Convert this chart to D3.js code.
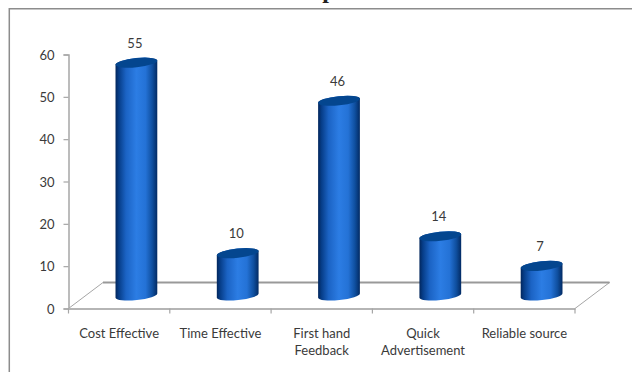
<!DOCTYPE html>
<html>
<head>
<meta charset="utf-8">
<script src="https://cdnjs.cloudflare.com/ajax/libs/d3/7.8.5/d3.min.js"></script>
<style>
  html, body { margin: 0; padding: 0; background: #fff; overflow: hidden; }
  svg { display: block; }
  text { font-family: Lato, "Open Sans", sans-serif; fill: #3a3a3a; }
</style>
</head>
<body>
<svg id="chart" width="632" height="372"></svg>
<script>
const categories = ["Cost Effective", "Time Effective", "First hand Feedback", "Quick Advertisement", "Reliable source"];
const values = [55, 10, 46, 14, 7];
const yTicks = [0, 10, 20, 30, 40, 50, 60];

const svg = d3.select("#chart");
const fontSize = 13;

// Plot extents and the oblique offset of the 3D floor
const plot = { left: 68.5, right: 575, top: 54.5, bottom: 308.5 };
const depth = { x: 34.5, y: -26 };
const barRadiusX = 21, barRadiusY = 4.6, barTilt = -6;

const x = d3.scaleBand().domain(categories).range([plot.left, plot.right]);
const y = d3.scaleLinear().domain([0, 60]).range([plot.bottom, plot.top]);

// Outer frame, open on its right and bottom sides
svg.append("path")
  .attr("d", d3.line()([[632, 8.8], [9.3, 8.8], [9.3, 372]]))
  .attr("fill", "none").attr("stroke", "#8c8c8c").attr("stroke-width", 1.5);

// Heading sits above the frame and is cut off by the page edge
svg.append("text")
  .attr("x", 329).attr("y", -2.5).attr("text-anchor", "middle")
  .style("font-family", "'Liberation Serif', serif")
  .style("font-weight", "bold").style("font-size", "24px").style("fill", "#222")
  .text("p");

const defs = svg.append("defs");
const grad = defs.append("linearGradient").attr("id", "cylinder")
  .attr("x1", 0).attr("x2", 1).attr("y1", 0).attr("y2", 0);
[[0, "#02265c"], [0.08, "#063d88"], [0.25, "#1b63c4"], [0.5, "#2c7de4"], [0.72, "#2472d6"], [0.88, "#0f4f9f"], [1, "#022a63"]]
  .forEach(([o, c]) => grad.append("stop").attr("offset", o).attr("stop-color", c));

// Floor of the 3D plot
const floor = [
  [plot.left, plot.bottom],
  [plot.left + depth.x, plot.bottom + depth.y],
  [plot.right + depth.x, plot.bottom + depth.y],
  [plot.right, plot.bottom]
];
svg.append("path").attr("d", d3.line()(floor))
  .attr("fill", "none").attr("stroke", "#a6a6a6").attr("stroke-width", 1);
svg.append("path").attr("d", d3.line()(floor.slice(1, 3)))
  .attr("fill", "none").attr("stroke", "#999").attr("stroke-width", 2);

// Axes
const yAxis = svg.append("g").attr("transform", `translate(${plot.left},0)`)
  .call(d3.axisLeft(y).tickValues(yTicks).tickSize(5).tickPadding(9));
const xAxis = svg.append("g").attr("transform", `translate(0,${plot.bottom})`)
  .call(d3.axisBottom(x).tickSize(0).tickPadding(20));

[yAxis, xAxis].forEach(a => {
  a.select(".domain").attr("stroke", "#a6a6a6").attr("stroke-width", 1.5);
  a.selectAll(".tick line").attr("stroke", "#a6a6a6").attr("stroke-width", 1.2);
  a.selectAll("text").style("font-size", fontSize + "px").style("font-family", null).attr("fill", null);
});
xAxis.select(".domain").attr("stroke", "#b5b5b5").attr("stroke-width", 2);
yAxis.selectAll("text").attr("dy", "0.36em");

// Category separators on the horizontal axis
xAxis.selectAll(".sep")
  .data(categories.concat([null]))
  .join("line").attr("class", "sep")
  .attr("x1", (d, i) => i < categories.length ? x(d) : plot.right)
  .attr("x2", (d, i) => i < categories.length ? x(d) : plot.right)
  .attr("y1", 0).attr("y2", 5)
  .attr("stroke", "#a6a6a6").attr("stroke-width", 1.2);

// Wrap long category names into rows no wider than a band
xAxis.selectAll(".tick text").each(function(d) {
  const t = d3.select(this);
  const baseY = +t.attr("y");
  const maxWidth = x.bandwidth() - 6;
  const lines = [];
  let line = "";
  d.split(" ").forEach(word => {
    const candidate = line ? line + " " + word : word;
    t.text(candidate);
    if (line && this.getComputedTextLength() > maxWidth) {
      lines.push(line);
      line = word;
    } else {
      line = candidate;
    }
  });
  lines.push(line);
  t.text(null);
  lines.forEach((l, i) => {
    t.append("tspan").attr("x", 0).attr("y", baseY + i * 17.3).attr("dy", "0.71em").text(l);
  });
});

// Cylinders: each sits halfway along the floor depth
const centre = d => x(d.category) + x.bandwidth() / 2 + depth.x / 2;
const level = v => y(v) + depth.y / 2;
const rows = categories.map((category, i) => ({ category, value: values[i] }));
const tiltRad = barTilt * Math.PI / 180;
const dx = barRadiusX * Math.cos(tiltRad), dy = barRadiusX * Math.sin(tiltRad);

const bars = svg.selectAll(".bar").data(rows).join("g").attr("class", "bar");

bars.append("path")
  .attr("fill", "url(#cylinder)")
  .attr("d", d => {
    const cx = centre(d), top = level(d.value), base = level(0);
    return `M${cx - dx},${top - dy}`
      + `L${cx - dx},${base - dy}`
      + `A${barRadiusX},${barRadiusY} ${barTilt} 0 0 ${cx + dx},${base + dy}`
      + `L${cx + dx},${top + dy}`
      + `A${barRadiusX},${barRadiusY} ${barTilt} 0 0 ${cx - dx},${top - dy}Z`;
  });

bars.append("ellipse")
  .attr("rx", barRadiusX).attr("ry", barRadiusY)
  .attr("fill", "#04468f")
  .attr("transform", d => `translate(${centre(d)},${level(d.value)}) rotate(${barTilt})`);

bars.append("text")
  .attr("x", d => centre(d) - 1.5)
  .attr("y", d => level(d.value) - 15)
  .attr("text-anchor", "middle")
  .style("font-size", fontSize + "px")
  .text(d => d.value);
</script>
</body>
</html>
